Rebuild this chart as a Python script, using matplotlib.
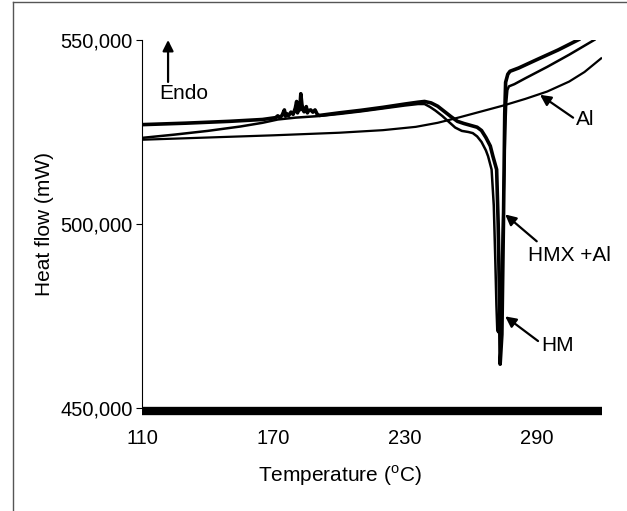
import matplotlib
matplotlib.use("Agg")
import matplotlib.pyplot as plt
from matplotlib.lines import Line2D

plt.rcParams['font.family'] = ['Liberation Sans', 'DejaVu Sans']
plt.rcParams['mathtext.fontset'] = 'custom'
plt.rcParams['mathtext.rm'] = 'Liberation Sans'

# ---- data (temperature in degC, heat flow in mW) ----
hm_T = [110, 130, 150, 165, 171, 172, 173, 174, 175, 175.5, 176, 177, 178, 179, 180,
        180.6, 181, 181.5, 182, 182.5, 183, 183.5, 184, 185, 185.5, 186, 187, 188, 189,
        190, 191, 200, 210, 220, 230, 236, 239, 242, 245, 248, 251, 254, 257, 260, 263,
        265, 267, 269, 270.2, 271.9, 272.6, 273.2, 273.5, 274.3, 275.0, 275.6, 276.0,
        277.0, 278, 282, 290, 300, 310]
hm_V = [527000, 527400, 527900, 528400, 528900, 529400, 528900, 529600, 531000, 529300,
        530000, 529500, 530400, 529800, 531500, 533300, 530200, 532000, 531000, 535400,
        532500, 531000, 530500, 531900, 530200, 530800, 531000, 530400, 531000, 529800,
        529500, 530200, 530900, 531700, 532600, 533100, 533300, 532900, 532000, 530600,
        529200, 527900, 527300, 526800, 526300, 525400, 523500, 521200, 518400, 514800,
        500000, 480000, 461900, 470000, 500000, 530000, 538500, 540700, 541500, 542400,
        544600, 547300, 550300]

hmxal_T = [110, 125, 140, 155, 165, 172, 180, 190, 200, 210, 220, 230, 236, 239, 241.5,
           244, 247, 250, 253, 256, 259, 261, 263, 265, 267, 268, 269.6, 270.6, 271.3,
           271.8, 272.2, 272.8, 273.6, 274.8, 275.8, 276.3, 276.8, 277.5, 280, 285, 295,
           305, 317]
hmxal_V = [523400, 524300, 525300, 526500, 527500, 528400, 528900, 529300, 529900, 530600,
           531400, 532200, 532600, 532600, 531800, 530800, 529400, 527800, 526200, 525300,
           525000, 524700, 523800, 522300, 520000, 518400, 514800, 505000, 490000, 478000,
           471000, 470500, 476000, 500000, 525000, 533000, 536400, 537400, 538000, 539600,
           542700, 546000, 550200]

al_T = [110, 140, 170, 200, 220, 235, 245, 255, 265, 275, 285, 295, 305, 312, 320]
al_V = [522900, 523500, 524100, 524800, 525500, 526400, 527500, 529000, 530600, 532200,
        534000, 536000, 538700, 541300, 545200]

x_ticks = [110, 170, 230, 290]
y_ticks = [450000, 500000, 550000]
y_tick_labels = ['450,000', '500,000', '550,000']

# ---- figure ----
fig = plt.figure(figsize=(6.27, 5.11), dpi=100)
ax = fig.add_axes([142/627, 1 - 408/511, (602-142)/627, (408-40)/511])

ax.plot(al_T, al_V, color='black', lw=1.6, solid_capstyle='butt')
ax.plot(hmxal_T, hmxal_V, color='black', lw=1.8, solid_capstyle='butt')
ax.plot(hm_T, hm_V, color='black', lw=2.6, solid_capstyle='butt')

ax.set_xlim(110, 320)
ax.set_ylim(450000, 550000)

ax.set_xticks(x_ticks)
ax.set_xticklabels([str(t) for t in x_ticks])
ax.set_yticks(y_ticks)
ax.set_yticklabels(y_tick_labels)

for s in ['top', 'right']:
    ax.spines[s].set_visible(False)
ax.spines['left'].set_linewidth(0.8)
ax.spines['bottom'].set_linewidth(6)
ax.spines['bottom'].set_capstyle('butt')
ax.spines['bottom'].set_position(('outward', 2))

ax.tick_params(axis='x', length=0, pad=13, labelsize=14.5)
ax.tick_params(axis='y', length=4, width=0.8, pad=2.5, labelsize=14.5)

ax.set_xlabel('Temperature ($^{\\mathrm{o}}$C)', fontsize=15, labelpad=11)
ax.xaxis.label.set_x(198/460)
ax.set_ylabel('Heat flow (mW)', fontsize=15, labelpad=5)

arrow_kw = dict(arrowstyle='-|>', mutation_scale=16, lw=1.6, color='black',
                shrinkA=0, shrinkB=0)

# Endo arrow
ax.annotate('', xy=(121.9, 550000), xytext=(121.9, 538600), arrowprops=arrow_kw)
ax.text(129.2, 535400, 'Endo', fontsize=15, ha='center', va='center')

# Al
ax.annotate('', xy=(291.7, 535100), xytext=(306.8, 528900), arrowprops=arrow_kw)
ax.text(308.3, 528400, 'Al', fontsize=15, ha='left', va='center')

# HMX + Al
ax.annotate('', xy=(275.8, 502600), xytext=(290.2, 495300), arrowprops=arrow_kw)
ax.text(305.2, 491500, 'HMX +Al', fontsize=15, ha='center', va='center')

# HM
ax.annotate('', xy=(275.8, 474900), xytext=(290.8, 468200), arrowprops=arrow_kw)
ax.text(292.4, 467100, 'HM', fontsize=15, ha='left', va='center')

# outer frame (left and top edges)
fig.add_artist(Line2D([12.5/627, 12.5/627], [0, 1 - 2.5/511], transform=fig.transFigure,
                      color='#555555', lw=1))
fig.add_artist(Line2D([12.5/627, 1], [1 - 2.5/511, 1 - 2.5/511], transform=fig.transFigure,
                      color='#555555', lw=1))

fig.savefig('out.png', dpi=100)
